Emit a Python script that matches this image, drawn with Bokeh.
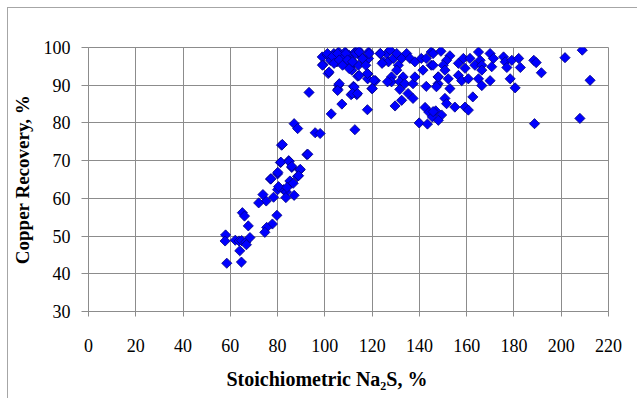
import numpy as np
from bokeh.plotting import figure
from bokeh.models import FixedTicker, ColumnDataSource, Title
from bokeh.embed import file_html
from bokeh.resources import INLINE

# Stoichiometric Na2S, %
na2s = [
    # low cluster
    81.7, 92.4, 81.2, 84.7, 86.0, 89.4, 80.0, 77.0, 88.4, 85.8, 80.0, 82.5, 83.7, 87.0,
    83.5, 78.3, 75.2, 73.8, 72.0, 65.1, 66.0, 67.6, 79.7, 77.8, 75.4, 74.6, 58.0, 57.8,
    62.1, 63.7, 64.8, 66.5, 68.3, 66.8, 64.0, 58.5, 64.7,
    87.0, 88.5, 95.9, 98.0, 82.0, 92.8, 81.4, 84.9, 86.0, 89.6, 80.1, 88.9, 77.2, 85.2,
    86.6, 80.4, 84.0, 93.3,
    # main cluster
    99.2, 98.9, 101.0, 102.4, 103.8, 105.1, 105.8, 107.2, 108.6, 109.3, 110.3, 110.7,
    111.4, 112.8, 114.2, 115.6, 117.0, 118.5, 118.5, 114.2, 111.4, 101.4, 113.9, 118.2,
    121.4, 118.1, 105.8, 105.5, 112.1, 111.1, 113.5, 119.9, 107.2, 102.7, 118.0, 112.7,
    123.4, 124.8, 126.2, 127.6, 126.9, 129.0, 130.4, 131.1, 132.5, 134.6, 136.0, 138.1,
    140.8, 142.9, 145.0, 145.0, 141.5, 130.4, 128.2, 128.2, 133.1, 131.7, 133.8, 137.3,
    138.1, 131.7, 135.2, 137.3, 132.5, 129.7, 142.9, 147.9, 147.9, 142.4, 144.1, 146.9,
    145.5, 139.9, 143.4,
    145.8, 149.1, 152.9, 151.5, 145.8, 150.1, 150.8, 156.5, 158.6, 161.4, 159.3, 163.5,
    165.0, 165.7, 166.4, 166.4, 169.9, 171.3, 170.6, 175.6, 176.3, 179.1, 182.0, 177.0,
    182.7, 188.4, 189.4, 191.6, 201.6, 208.9, 212.2, 148.0, 147.2, 152.2, 156.5, 157.9,
    160.7, 165.0, 166.4, 169.9, 178.4, 180.5, 152.9, 162.6, 150.8, 151.5, 155.0, 159.3,
    160.7, 149.4, 148.0, 145.8, 188.7, 207.9,
    99.0, 101.1, 101.8, 103.2, 103.9, 105.4, 106.1, 107.5, 108.9, 109.6, 110.3, 111.7,
    113.1, 114.5, 114.5, 115.9, 117.3, 118.7, 118.0, 120.7, 123.5, 124.2, 106.1, 105.4,
    112.4, 111.7, 113.8, 120.1, 126.5,
]

# Copper Recovery, %
recovery = [
    74.1, 71.6, 69.5, 70.0, 68.2, 67.5, 66.5, 65.1, 65.8, 64.2, 62.3, 62.3, 61.7, 60.8,
    60.2, 60.3, 59.3, 61.0, 58.8, 56.2, 55.3, 52.7, 55.5, 53.2, 52.3, 51.0, 50.3, 48.7,
    48.9, 48.7, 48.8, 48.4, 49.6, 47.7, 46.1, 42.8, 43.1,
    79.8, 78.5, 77.4, 77.2, 74.3, 71.7, 69.6, 69.8, 68.5, 67.7, 66.9, 66.0, 65.2, 64.6,
    64.0, 63.1, 62.9, 88.1,
    95.5, 97.5, 98.0, 96.6, 98.4, 96.2, 98.8, 97.1, 98.8, 95.8, 97.9, 94.9,
    96.6, 98.8, 99.3, 97.5, 96.2, 98.8, 97.1, 95.3, 94.0, 93.1, 92.4, 93.0,
    91.2, 91.7, 90.0, 88.9, 89.7, 87.5, 87.5, 89.1, 85.0, 82.4, 83.5, 78.2,
    98.4, 96.2, 98.4, 99.3, 96.2, 97.1, 98.4, 95.3, 97.1, 98.4, 97.1, 96.2,
    97.1, 97.1, 98.8, 95.3, 94.0, 94.0, 92.2, 90.9, 92.2, 90.9, 90.4, 90.4,
    92.2, 88.9, 87.8, 86.5, 86.0, 84.5, 89.7, 92.2, 90.4, 84.1, 82.8, 83.2,
    81.6, 80.0, 79.7,
    98.4, 99.0, 97.8, 96.6, 95.3, 95.3, 94.0, 95.8, 97.1, 97.1, 94.5, 95.3,
    98.8, 96.6, 95.3, 94.0, 98.4, 97.1, 94.9, 97.5, 96.2, 96.6, 97.1, 94.7,
    94.7, 96.6, 96.0, 93.3, 97.3, 99.3, 91.3, 92.2, 89.6, 91.7, 92.6, 91.2,
    91.7, 91.7, 89.9, 91.2, 91.7, 89.3, 89.1, 86.9, 86.5, 85.1, 84.2, 84.2,
    83.4, 82.1, 80.7, 83.0, 79.8, 81.2,
    95.3, 98.4, 93.5, 97.6, 95.8, 98.4, 96.7, 95.3, 98.4, 96.7, 94.4, 96.2,
    98.4, 98.8, 92.6, 97.1, 95.3, 98.4, 93.1, 91.3, 98.4, 95.8, 90.4, 88.6,
    89.5, 87.8, 87.8, 89.1, 90.9,
]

x_ticks = [0, 20, 40, 60, 80, 100, 120, 140, 160, 180, 200, 220]
y_ticks = [30, 40, 50, 60, 70, 80, 90, 100]
x_title = "Stoichiometric Na\u2082S, %"
y_title = "Copper Recovery, %"

FONT = "Liberation Serif"
GRID = "#8C8C8C"

p = figure(
    frame_width=520, frame_height=264,
    min_border_left=79, min_border_right=30, min_border_top=39, min_border_bottom=87,
    x_range=(0, 220), y_range=(30, 100),
    output_backend="svg", toolbar_location=None,
    background_fill_color="white", border_fill_color="white",
)
p.styles = {"border": "1px solid #A6A6A6", "margin-left": "7px", "margin-top": "7px"}

p.outline_line_color = GRID
p.outline_line_width = 1

for ax in (p.xaxis, p.yaxis):
    ax.axis_line_color = GRID
    ax.major_tick_line_color = GRID
    ax.minor_tick_line_color = None
    ax.major_tick_in = 0
    ax.major_label_text_font = FONT
    ax.major_label_text_font_size = "18px"
    ax.major_label_text_color = "black"
    ax.axis_label_text_font = FONT
    ax.axis_label_text_font_style = "bold"
    ax.axis_label_text_color = "black"

p.xaxis.major_tick_out = 5
p.yaxis.major_tick_out = 7
p.xaxis.ticker = FixedTicker(ticks=x_ticks)
p.yaxis.ticker = FixedTicker(ticks=y_ticks)
p.yaxis.axis_label = y_title
p.yaxis.axis_label_text_font_size = "19px"
p.xaxis.major_label_standoff = 22
p.yaxis.major_label_standoff = 11
p.yaxis.axis_label_standoff = 8

# x-axis title, centred on the whole chart area as in the original
p.add_layout(Title(text=x_title, align="left", offset=138, standoff=22,
                   text_font=FONT, text_font_style="bold", text_font_size="20px",
                   text_color="black"), "below")

p.xgrid.ticker = FixedTicker(ticks=x_ticks)
p.ygrid.ticker = FixedTicker(ticks=y_ticks)
p.grid.grid_line_color = GRID
p.grid.grid_line_width = 1

src = ColumnDataSource(dict(x=na2s, y=recovery))
p.scatter("x", "y", source=src, marker="square", angle=np.pi / 4, size=7.2,
          fill_color="#0000FF", line_color="#000080", line_width=0.8)

open("out.html", "w").write(file_html(p, INLINE))
